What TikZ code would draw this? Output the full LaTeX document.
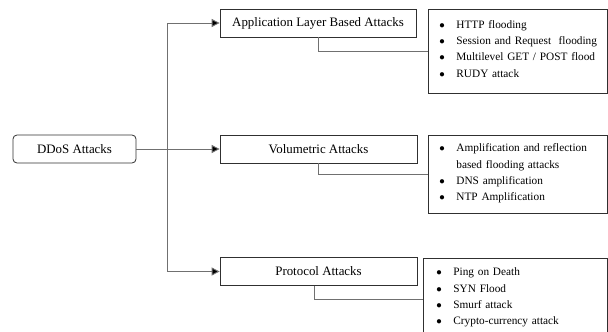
\documentclass[tikz,border=0pt]{standalone}
\usepackage{fontspec}
\setmainfont{Liberation Serif}
\usepackage{tikz}
\usetikzlibrary{shapes,arrows,arrows.meta,positioning,calc}

\definecolor{boxline}{HTML}{303030}
\definecolor{linkline}{HTML}{707070}

\tikzset{
  headbox/.style={draw=boxline,line width=0.8pt,minimum height=28pt,inner sep=0pt,
    font=\fontsize{12.9}{15}\selectfont},
  listbox/.style={draw=boxline,line width=0.8pt,anchor=north west,align=left,
    inner ysep=0pt,font=\fontsize{11.3}{16.3}\selectfont},
  link/.style={draw=linkline,line width=0.9pt},
  feed/.style={link,-{Triangle[length=8pt,width=8pt,fill=black]}}
}
\newcommand{\itm}{\makebox[17pt][l]{$\bullet$}}

\begin{document}
\begin{tikzpicture}[x=1pt,y=-1pt]
\useasboundingbox (0,0) rectangle (608,332);
% main box
\node[headbox,rounded corners=4pt,minimum width=123pt] (ddos) at (74.5,149) {DDoS Attacks};
% three kinds of attacks
\node[headbox,minimum width=196pt] (app) at (318,23) {Application Layer Based Attacks};
\node[headbox,minimum width=197pt] (vol) at (318.5,149) {Volumetric Attacks};
\node[headbox,minimum width=197pt] (proto) at (318.5,271.5) {Protocol Attacks};
% lists
\node[listbox,inner xsep=11pt,text width=157pt,minimum height=84pt] (applist) at (428,9)
  {\begin{tabular}{@{}l@{}}\itm HTTP flooding\\ \itm Session and Request\ \ flooding\\
   \itm Multilevel GET / POST flood\\ \itm RUDY attack\\[4pt]\end{tabular}};
\node[listbox,inner xsep=11pt,text width=157pt,minimum height=78pt] (vollist) at (428,135)
  {\begin{tabular}{@{}l@{}}\itm Amplification and reflection\\ \hspace*{17pt}based flooding attacks\\
   \itm DNS amplification\\ \itm NTP Amplification\\[3pt]\end{tabular}};
\node[listbox,inner xsep=13pt,text width=158pt,minimum height=82pt] (protolist) at (423,258)
  {\begin{tabular}{@{}l@{}}\itm Ping on Death\\ \itm SYN Flood\\ \itm Smurf attack\\
   \itm Crypto-currency attack\\[5pt]\end{tabular}};

% trunk
\coordinate (split) at (167,149);
\draw[link] (split |- app.west) -- (split |- proto.west);
\draw[feed] (ddos) -- (vol);
\draw[feed] (split |- app.west) -- (app);
\draw[feed] (split |- proto.west) -- (proto);
% box to list
\draw[link] (app.south) |- (applist.west);
\draw[link] (vol.south) |- (vollist.west);
\draw[link] ([xshift=-4pt]proto.south) |- (protolist.west);
\end{tikzpicture}
\end{document}
